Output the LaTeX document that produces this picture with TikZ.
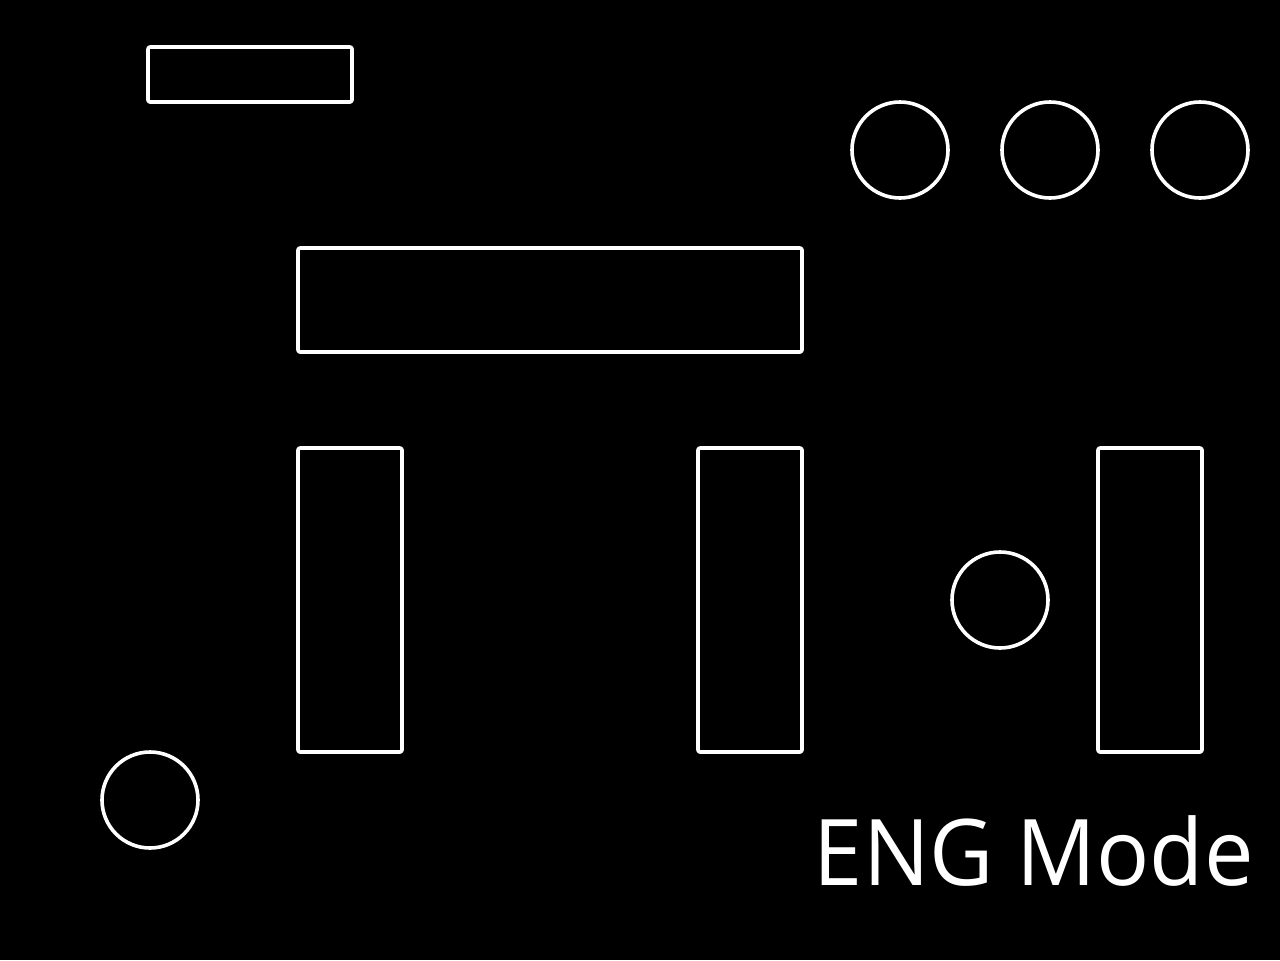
\documentclass[tikz,border=0pt]{standalone}
\usepackage{fontspec}
\setmainfont{Open Sans}
\tikzset{
  outline/.style={draw=white, line width=1.8pt, rounded corners=1pt},
  ring/.style={draw=white, line width=1.8pt}
}
\begin{document}
\begin{tikzpicture}[x=0.5pt, y=-0.5pt, line join=round]
            \fill[black] (0,0) rectangle (1280,960);
            \useasboundingbox (0,0) rectangle (1280,960);
            \draw[outline] (148,47) rectangle (352,102); %top left
            \draw[outline] (298,248) rectangle (802,352); %wide bar
            \draw[outline] (298,448) rectangle (402,752);
            \draw[outline] (698,448) rectangle (802,752);
            \draw[outline] (1098,448) rectangle (1202,752);
            \foreach \cx in {900,1050,1200}
                \draw[ring] (\cx,150) circle (24pt);
            \draw[ring] (1000,600) circle (24pt);
            \draw[ring] (150,800) circle (24pt);
            \node[text=white, font=\fontsize{46}{50}\selectfont, anchor=base east, inner sep=0pt, xscale=0.96] (mode) at (1254,885) {ENG Mode};
        \end{tikzpicture}
\end{document}
